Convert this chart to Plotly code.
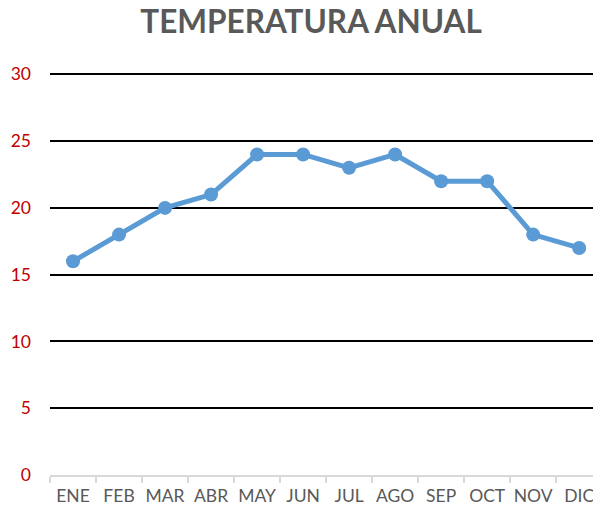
import plotly.graph_objects as go

months = ["ENE", "FEB", "MAR", "ABR", "MAY", "JUN", "JUL", "AGO", "SEP", "OCT", "NOV", "DIC"]
temps = [16, 18, 20, 21, 24, 24, 23, 24, 22, 22, 18, 17]
y_ticks = [0, 5, 10, 15, 20, 25, 30]

fig = go.Figure(go.Scatter(
    x=months, y=temps, mode="lines+markers",
    line=dict(color="#5b9bd5", width=5),
    marker=dict(color="#5b9bd5", size=14),
    cliponaxis=False,
))

fig.update_layout(
    width=593, height=510,
    margin=dict(l=50, r=0, t=73, b=35, autoexpand=False),
    paper_bgcolor="white", plot_bgcolor="white",
    showlegend=False,
    title=dict(text="<b>TEMPERATURA ANUAL</b>", x=0.5245, xanchor="center",
               y=0.957, yanchor="middle", xref="container", yref="container",
               font=dict(family="Lato", size=31.5, color="#595959")),
    font=dict(family="Lato", color="#595959"),
)
fig.update_xaxes(
    type="category", range=[-0.5, 11.3], automargin=False,
    showgrid=False, zeroline=False,
    showline=True, linecolor="#d9d9d9", linewidth=2,
    ticks="outside", tickson="boundaries", ticklen=6, tickcolor="#d9d9d9", tickwidth=2,
    tickangle=0, ticklabelstandoff=4,
    tickfont=dict(family="Lato", size=17.5, color="#595959"),
)
fig.update_yaxes(
    range=[0, 30.1], tickvals=y_ticks, automargin=False,
    showgrid=True, gridcolor="#000000", gridwidth=2,
    zeroline=False, showline=False,
    ticks="", ticklabelstandoff=18,
    tickfont=dict(family="Lato", size=17.5, color="#c00000"),
)

fig.write_html(
    "out.html",
    config={"displayModeBar": False},
    post_script="document.body.style.margin='0';document.body.style.overflow='hidden';",
)
